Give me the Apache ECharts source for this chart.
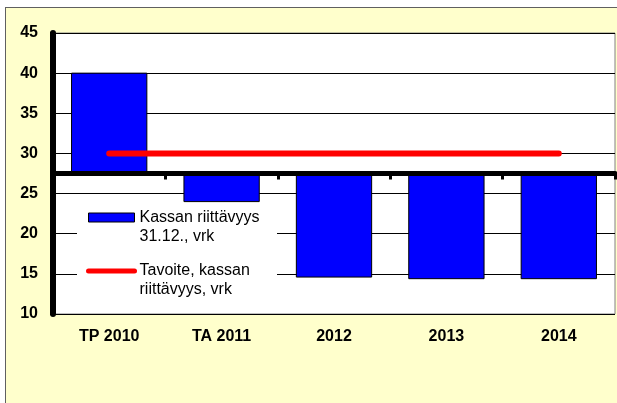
<!DOCTYPE html>
<html>
<head>
<meta charset="utf-8">
<script src="https://cdn.jsdelivr.net/npm/echarts@6/dist/echarts.min.js"></script>
<style>
  html, body { margin: 0; padding: 0; background: #fff; }
  #frame { position: absolute; left: 5px; top: 7px; width: 700px; height: 500px;
           border: 1px solid #606060; background: #FFFFCC; }
  #chart { position: absolute; left: 0; top: 0; width: 617px; height: 403px; }
</style>
</head>
<body>
<div id="frame"></div>
<div id="chart"></div>
<script>
// kategoriat ja arvot
const categories = ["TP 2010", "TA 2011", "2012", "2013", "2014"];
const kassanRiittavyys = [40, 24, 14.6, 14.4, 14.4];
const tavoite = [30, 30, 30, 30, 30];
const baseline = 27.5; // x-akselin leikkauskohta
const yMin = 10, yMax = 45, yStep = 5;
const seriesNames = ["Kassan riittävyys\n31.12., vrk", "Tavoite, kassan\nriittävyys, vrk"];

const gridTop = 33, gridBottom = 89;
const gridHeight = 403 - gridTop - gridBottom;

const myChart = echarts.init(document.getElementById("chart"));

const option = {
    backgroundColor: "transparent",
    animation: false,
    textStyle: { fontFamily: "Liberation Sans, Arial, sans-serif" },
    grid: {
        left: 53,
        right: 2,
        top: gridTop,
        bottom: gridBottom,
        show: true,
        backgroundColor: "#fff",
        borderColor: "#808080",
        borderWidth: 1,
    },
    // valkoinen tausta selitteelle (peittää ruudukon)
    graphic: [
        {
            type: "rect",
            z: 11,
            shape: { x: 77, y: 203, width: 200, height: 110 },
            style: { fill: "#fff" },
        },
    ],
    legend: {
        left: 86,
        top: 189,
        padding: 0,
        z: 12,
        orient: "vertical",
        itemGap: -3.5,
        itemWidth: 46,
        itemHeight: 9,
        selectedMode: false,
        // tyhjä rivi ylös, jotta ikoni asettuu ensimmäisen rivin kohdalle
        formatter: (name) => "\n" + name,
        textStyle: {
            fontSize: 16,
            lineHeight: 19,
            color: "#000",
        },
        data: [
            { name: seriesNames[0], icon: "rect", itemStyle: { color: "#0000FF", borderColor: "#000", borderWidth: 1 } },
            { name: seriesNames[1], itemStyle: { opacity: 0 }, lineStyle: { color: "#FF0000", width: 5, cap: "round" } },
        ],
    },
    xAxis: [
        {
            type: "category",
            data: categories,
            position: "bottom",
            boundaryGap: true,
            axisLine: { show: false },
            axisTick: { show: false },
            axisLabel: { fontSize: 16, fontWeight: "bold", color: "#000", margin: 15 },
        },
        {
            // paksu vaaka-akseli arvon 27,5 kohdalla
            type: "category",
            data: categories,
            position: "top",
            offset: -((yMax - baseline) / (yMax - yMin)) * gridHeight,
            boundaryGap: true,
            z: 14,
            axisLine: { show: true, lineStyle: { color: "#000", width: 5 } },
            axisTick: { show: true, inside: true, length: 6, lineStyle: { color: "#000", width: 3 } },
            axisLabel: { show: false },
            splitLine: { show: false },
        },
    ],
    yAxis: {
        type: "value",
        min: yMin,
        max: yMax,
        interval: yStep,
        z: 10,
        axisLine: { show: true, lineStyle: { color: "#000", width: 6 } },
        axisTick: { show: true, length: 3, lineStyle: { color: "#000", width: 2 } },
        axisLabel: { fontSize: 16, fontWeight: "bold", color: "#000", margin: 15 },
        splitLine: { show: true, lineStyle: { color: "#000", width: 1 } },
    },
    series: [
        {
            name: seriesNames[0],
            type: "custom",
            xAxisIndex: 0,
            z: 11,
            itemStyle: { color: "#0000FF", borderColor: "#000", borderWidth: 1 },
            data: categories.map((c, i) => [i, kassanRiittavyys[i]]),
            encode: { x: 0, y: 1 },
            renderItem: (params, api) => {
                const top = api.coord([api.value(0), api.value(1)]);
                const base = api.coord([api.value(0), baseline]);
                const w = api.size([1, 0])[0] * 0.67;
                return {
                    type: "rect",
                    shape: {
                        x: top[0] - w / 2,
                        y: Math.min(top[1], base[1]),
                        width: w,
                        height: Math.abs(base[1] - top[1]),
                    },
                    style: { fill: "#0000FF", stroke: "#000", lineWidth: 1 },
                };
            },
        },
        {
            name: seriesNames[1],
            type: "line",
            xAxisIndex: 0,
            data: tavoite,
            symbol: "none",
            z: 13,
            lineStyle: { color: "#FF0000", width: 6, cap: "round" },
            itemStyle: { color: "#FF0000" },
        },
    ],
};

myChart.setOption(option);
</script>
</body>
</html>
